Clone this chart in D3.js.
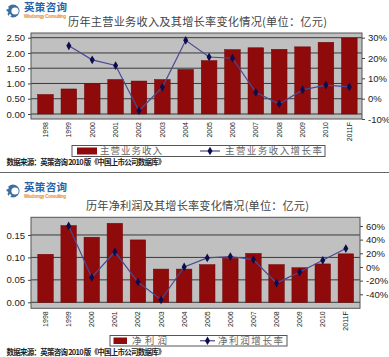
<!DOCTYPE html>
<html><head><meta charset="utf-8">
<script src="https://cdn.jsdelivr.net/npm/d3@7"></script>
<style>body{margin:0;background:#fff}svg{display:block}</style>
</head><body>
<svg id="c" width="389" height="357"></svg>
<script>
const years = ["1998","1999","2000","2001","2002","2003","2004","2005","2006","2007","2008","2009","2010","2011F"];
const revenue = [0.64,0.82,0.99,1.13,1.08,1.13,1.46,1.75,2.11,2.17,2.12,2.20,2.35,2.49];
const revenueGrowth = [null,26,19.1,16.3,-5.9,5.6,28.7,20.5,19.9,3.1,-2.6,4.3,6.7,5.8];
const profit = [0.107,0.171,0.145,0.176,0.139,0.074,0.074,0.084,0.098,0.109,0.084,0.077,0.0855,0.108];
const profitGrowth = [null,60,-15.4,22.2,-22,-48,0,13.3,15.3,10.8,-23.7,-7.4,9.8,27];
const revenueTicks = [0,0.5,1,1.5,2,2.5];
const revenueGrowthTicks = [-10,0,10,20,30];
const profitTicks = [0,0.05,0.1,0.15];
const profitGrowthTicks = [-40,-20,0,20,40,60];
const titles = ["历年主营业务收入及其增长率变化情况(单位：亿元)","历年净利润及其增长率变化情况(单位：亿元)"];
const legendBar = ["主营业务收入","净利润"];
const legendLine = ["主营业务收入增长率","净利润增长率"];
const sourceText = "数据来源：英策咨询 2010 版《中国上市公司数据库》";

const svg = d3.select("#c");
const CJK = "'Noto Sans CJK SC', sans-serif";
const SANS = "'Liberation Sans', Arial, sans-serif";
const BAR = "#8f0a0a", LINE = "#4a4a92", MARK = "#0c0c4e";

function logo(g){
  g.append("circle").attr("cx",13).attr("cy",11).attr("r",6.5).attr("fill","#3d6f9e");
  g.append("circle").attr("cx",15).attr("cy",11).attr("r",3.6).attr("fill","#fff");
  [[7.5,8],[7,12.5],[10,15.5]].forEach(p=>g.append("circle").attr("cx",p[0]).attr("cy",p[1]).attr("r",1.2).attr("fill","#fff"));
  g.append("text").attr("x",24).attr("y",11).attr("font-family",CJK).attr("font-weight","bold")
    .attr("font-size",10.5).attr("fill","#2a64a6").attr("textLength",43).text("英策咨询");
  g.append("text").attr("x",24).attr("y",18).attr("font-family",SANS).attr("font-weight","bold")
    .attr("font-size",4.5).attr("fill","#e8891e").attr("textLength",42).text("Wisdomgy Consulting");
}

function chart(cfg){
  const g = svg.append("g").attr("transform",`translate(0,${cfg.oy})`);
  logo(g);
  g.append("text").attr("x",cfg.titleX).attr("y",cfg.plotTop-7).attr("font-family",CJK)
    .attr("font-size",11.2).attr("fill","#444").attr("textLength",cfg.titleW).text(cfg.title);

  const x = d3.scaleBand().domain(years).range(cfg.bandRange).paddingInner(0.33).paddingOuter(0.165);
  const yL = d3.scaleLinear().domain(cfg.leftDomain).range([cfg.plotBottom,cfg.plotTop]);
  const yR = d3.scaleLinear().domain(cfg.rightDomain).range([cfg.plotBottom,cfg.plotTop]);

  g.append("rect").attr("x",cfg.plotLeft).attr("y",cfg.plotTop)
    .attr("width",cfg.plotRight-cfg.plotLeft).attr("height",cfg.plotBottom-cfg.plotTop)
    .attr("fill","#c0c0c0");
  g.selectAll(".grid").data(cfg.leftTicks).enter().append("line")
    .attr("x1",cfg.plotLeft).attr("x2",cfg.plotRight)
    .attr("y1",d=>yL(d)).attr("y2",d=>yL(d)).attr("stroke","#3a3a3a").attr("stroke-width",1);
  g.selectAll(".bar").data(cfg.bars).enter().append("rect")
    .attr("x",(d,i)=>x(years[i])).attr("width",x.bandwidth())
    .attr("y",d=>yL(d)).attr("height",d=>yL(0)-yL(d))
    .attr("fill",BAR).attr("stroke","#6e0505").attr("stroke-width",0.5);
  g.append("rect").attr("x",cfg.plotLeft).attr("y",cfg.plotTop)
    .attr("width",cfg.plotRight-cfg.plotLeft).attr("height",cfg.plotBottom-cfg.plotTop)
    .attr("fill","none").attr("stroke","#555").attr("stroke-width",1);
  const pts = cfg.growth.map((v,i)=>({v,i})).filter(d=>d.v!==null);
  const line = d3.line().x(d=>x(years[d.i])+x.bandwidth()/2).y(d=>yR(d.v));
  g.append("path").datum(pts).attr("d",line).attr("fill","none").attr("stroke",LINE).attr("stroke-width",1.2);
  g.selectAll(".mk").data(pts).enter().append("path")
    .attr("d",d3.symbol(d3.symbolDiamond,22))
    .attr("transform",d=>`translate(${x(years[d.i])+x.bandwidth()/2},${yR(d.v)})`)
    .attr("fill",MARK);
  const la = g.append("g").attr("transform",`translate(${cfg.plotLeft},0)`)
    .call(d3.axisLeft(yL).tickValues(cfg.leftTicks).tickFormat(d3.format(cfg.leftFmt)).tickSize(3).tickPadding(3));
  la.select(".domain").remove();
  la.selectAll("line").attr("stroke","#444");
  la.selectAll("text").attr("font-family",SANS).attr("font-size",9.5).attr("fill","#222");
  const ra = g.append("g").attr("transform",`translate(${cfg.plotRight},0)`)
    .call(d3.axisRight(yR).tickValues(cfg.rightTicks).tickFormat(d=>d+"%").tickSize(3).tickPadding(3));
  ra.select(".domain").remove();
  ra.selectAll("line").attr("stroke","#444");
  ra.selectAll("text").attr("font-family",SANS).attr("font-size",9.5).attr("fill","#222");
  g.selectAll(".xl").data(years).enter().append("text")
    .attr("transform",d=>`translate(${x(d)+x.bandwidth()/2},${cfg.plotBottom+3}) rotate(-90)`)
    .attr("text-anchor","end").attr("dy","0.35em")
    .attr("font-family",SANS).attr("font-size",7).attr("fill","#222").text(d=>d);
  const L = cfg.legend;
  g.append("rect").attr("x",L.x).attr("y",L.y).attr("width",L.w).attr("height",L.h)
    .attr("fill","#fff").attr("stroke","#555").attr("stroke-width",1);
  g.append("rect").attr("x",L.sx).attr("y",L.y+2).attr("width",L.sw).attr("height",L.h-4).attr("fill",BAR);
  g.append("text").attr("x",L.t1).attr("y",L.y+L.h-2.2).attr("font-family",CJK).attr("font-size",9.5)
    .attr("fill","#666").attr("textLength",L.t1w).text(cfg.legendBar);
  g.append("line").attr("x1",L.lx).attr("x2",L.lx+L.lw).attr("y1",L.y+L.h/2).attr("y2",L.y+L.h/2)
    .attr("stroke",LINE).attr("stroke-width",1.2);
  g.append("path").attr("d",d3.symbol(d3.symbolDiamond,22)).attr("transform",`translate(${L.lx+L.lw/2},${L.y+L.h/2})`).attr("fill",MARK);
  g.append("text").attr("x",L.t2).attr("y",L.y+L.h-2.2).attr("font-family",CJK).attr("font-size",9.5)
    .attr("fill","#666").attr("textLength",L.t2w).text(cfg.legendLine);
  g.append("text").attr("x",6.5).attr("y",cfg.srcY).attr("font-family",CJK).attr("font-weight","bold")
    .attr("font-size",7.5).attr("fill","#222").attr("textLength",159).text(sourceText);
}

chart({oy:0, title:titles[0], titleX:68, titleW:259, plotTop:33, plotBottom:119, plotLeft:31, plotRight:362,
  bandRange:[33.8,361], leftDomain:[-0.164,2.654], rightDomain:[-10,32.3],
  bars:revenue, growth:revenueGrowth, leftTicks:revenueTicks, rightTicks:revenueGrowthTicks, leftFmt:".2f",
  legendBar:legendBar[0], legendLine:legendLine[0],
  legend:{x:72,y:145.5,w:253,h:11,sx:77,sw:20,t1:100,t1w:62,lx:200,lw:20,t2:225,t2w:97},
  srcY:165});

svg.append("line").attr("x1",0).attr("x2",389).attr("y1",172.5).attr("y2",172.5).attr("stroke","#666").attr("stroke-width",1);

chart({oy:180, title:titles[1], titleX:86, titleW:223, plotTop:37.3, plotBottom:128.3, plotLeft:31, plotRight:360,
  bandRange:[34,357.4], leftDomain:[-0.0134,0.1894], rightDomain:[-60.5,72.7],
  bars:profit, growth:profitGrowth, leftTicks:profitTicks, rightTicks:profitGrowthTicks, leftFmt:".2f",
  legendBar:legendBar[1], legendLine:legendLine[1],
  legend:{x:110,y:155.5,w:177,h:10.5,sx:113.5,sw:13.5,t1:132,t1w:35,lx:200,lw:15,t2:218,t2w:65},
  srcY:175});
</script>
</body></html>
